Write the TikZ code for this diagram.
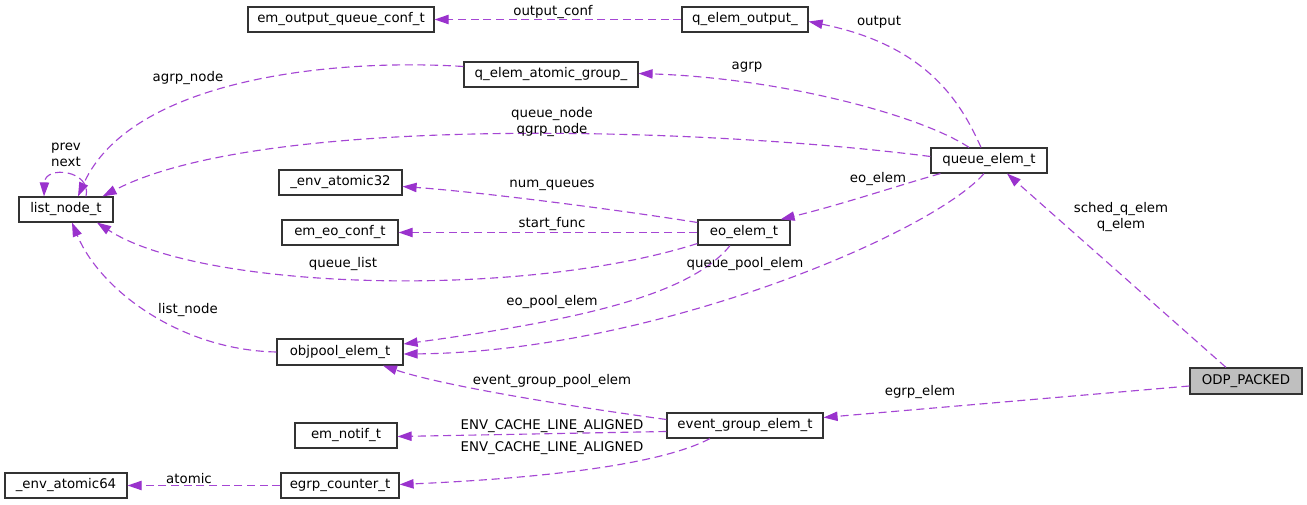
\documentclass[tikz,border=0pt]{standalone}
\usepackage{fontspec}
\setmainfont{DejaVu Sans}
\usetikzlibrary{arrows.meta,calc}
\definecolor{edgec}{RGB}{154,50,205}
\definecolor{edgel}{RGB}{165,70,212}
\definecolor{odpfill}{RGB}{191,191,191}
\newcommand\mkbox[7][]{%
  \node[box,#1,minimum width={(#5-#3)*0.75pt},minimum height={(#6-#4)*0.75pt}] (#2) at ({(#3+#5)/2},{(#4+#6)/2}) {#7};}
\begin{document}
\begin{tikzpicture}[x=0.75pt,y=-0.75pt,
  box/.style={draw=black!80,line width=0.9pt,fill=white,inner sep=0pt,font=\fontsize{10}{12}\selectfont},
  edge/.style={draw=edgel,line width=0.85pt,dash pattern=on 6pt off 3.5pt,
     -{Triangle[length=10.5pt,width=7pt,color=edgec]}},
  lbl/.style={font=\fontsize{10}{12}\selectfont,inner sep=0pt,align=center}]
\useasboundingbox[fill=white] (0,0) rectangle (1307,505);
% nodes
\mkbox{emout}{248}{7}{434}{32}{em\_output\_queue\_conf\_t}
\mkbox{qout}{682}{7}{808}{32}{q\_elem\_output\_}
\mkbox{qag}{464}{62}{638}{87}{q\_elem\_atomic\_group\_}
\mkbox{qe}{931}{148}{1047}{173}{queue\_elem\_t}
\mkbox{list}{19}{197}{113}{222}{list\_node\_t}
\mkbox{at32}{279}{170}{402}{195}{\_env\_atomic32}
\mkbox{eoconf}{282}{220}{398}{245}{em\_eo\_conf\_t}
\mkbox{eo}{698}{220}{790}{245}{eo\_elem\_t}
\mkbox{objpool}{277}{339}{403}{365}{objpool\_elem\_t}
\mkbox[fill=odpfill]{odp}{1190}{368}{1302}{394}{ODP\_PACKED}
\mkbox{eg}{667}{413}{823}{438}{event\_group\_elem\_t}
\mkbox{notif}{295}{423}{397}{448}{em\_notif\_t}
\mkbox{at64}{5}{473}{127}{498}{\_env\_atomic64}
\mkbox{egc}{281}{473}{399}{498}{egrp\_counter\_t}
% edges
\draw[edge] (qout.west) -- (emout.east);
\draw[edge] ($(qe.north)+(-8,0)$) .. controls (960,100) and (925,45) .. ($(qout.east)+(0,2)$);
\draw[edge] ($(qe.north)+(-20,0)$) .. controls (920,115) and (780,78) .. ($(qag.east)+(0,-1)$);
\draw[edge] ($(qe.west)+(0,-4)$) .. controls (700,127) and (260,114) .. ($(list.north east)+(-11,0)$);
\draw[edge] ($(qe.south west)+(10,0)$) .. controls (900,185) and (840,205) .. ($(eo.north east)+(-10,0)$);
\draw[edge] ($(qe.south)+(-5,0)$) .. controls (930,235) and (650,352) .. ($(objpool.east)+(0,2)$);
\draw[edge] ($(odp.north)+(-20,0)$) -- ($(qe.south)+(18,0)$);
\draw[edge] ($(odp.west)+(0,5)$) -- ($(eg.east)+(0,-8)$);
\draw[edge] ($(eo.west)+(0,-10)$) .. controls (620,210) and (480,192) .. ($(at32.east)+(0,4)$);
\draw[edge] (eo.west) -- (eoconf.east);
\draw[edge] ($(eo.west)+(0,11)$) .. controls (520,300) and (200,290) .. ($(list.south)+(31,0)$);
\draw[edge] ($(eo.south)+(-14,0)$) .. controls (690,295) and (580,320) .. ($(objpool.east)+(0,-8)$);
\draw[edge] (objpool.west) .. controls (180,350) and (100,290) .. ($(list.south)+(6,0)$);
\draw[edge] ($(qag.west)+(0,-8)$) .. controls (330,58) and (130,80) .. ($(list.north)+(12,0)$);
\draw[edge] ($(list.north)+(20,0)$) .. controls (92,170) and (45,165) .. ($(list.north)+(-22,0)$);
\draw[edge] ($(eg.west)+(0,-6)$) .. controls (560,405) and (440,385) .. ($(objpool.south)+(43,0)$);
\draw[edge] ($(eg.west)+(0,6)$) -- ($(notif.east)+(0,1)$);
\draw[edge] ($(eg.south)+(-35,0)$) .. controls (650,470) and (500,480) .. ($(egc.east)+(0,-1)$);
\draw[edge] (egc.west) -- (at64.east);
% labels
\node[lbl] (l1) at (553,12) {output\_conf};
\node[lbl] (l2) at (879,22) {output};
\node[lbl] (l3) at (747,67) {agrp};
\node[lbl] (l4) at (188,78) {agrp\_node};
\node[lbl] (l5) at (552,122) {queue\_node\\qgrp\_node};
\node[lbl] (l6) at (66,155) {prev\\next};
\node[lbl] (l7) at (878,179) {eo\_elem};
\node[lbl] (l8) at (552,185) {num\_queues};
\node[lbl] (l9) at (552,224) {start\_func};
\node[lbl] (l10) at (343,264) {queue\_list};
\node[lbl] (l11) at (745,264) {queue\_pool\_elem};
\node[lbl] (l12) at (1121,217) {sched\_q\_elem\\q\_elem};
\node[lbl] (l13) at (552,302) {eo\_pool\_elem};
\node[lbl] (l14) at (188,310) {list\_node};
\node[lbl] (l15) at (552,381) {event\_group\_pool\_elem};
\node[lbl] (l16) at (920,392) {egrp\_elem};
\node[lbl] (l17) at (552,426) {ENV\_CACHE\_LINE\_ALIGNED};
\node[lbl] (l18) at (552,448) {ENV\_CACHE\_LINE\_ALIGNED};
\node[lbl] (l19) at (189,479) {atomic};
\end{tikzpicture}
\end{document}
